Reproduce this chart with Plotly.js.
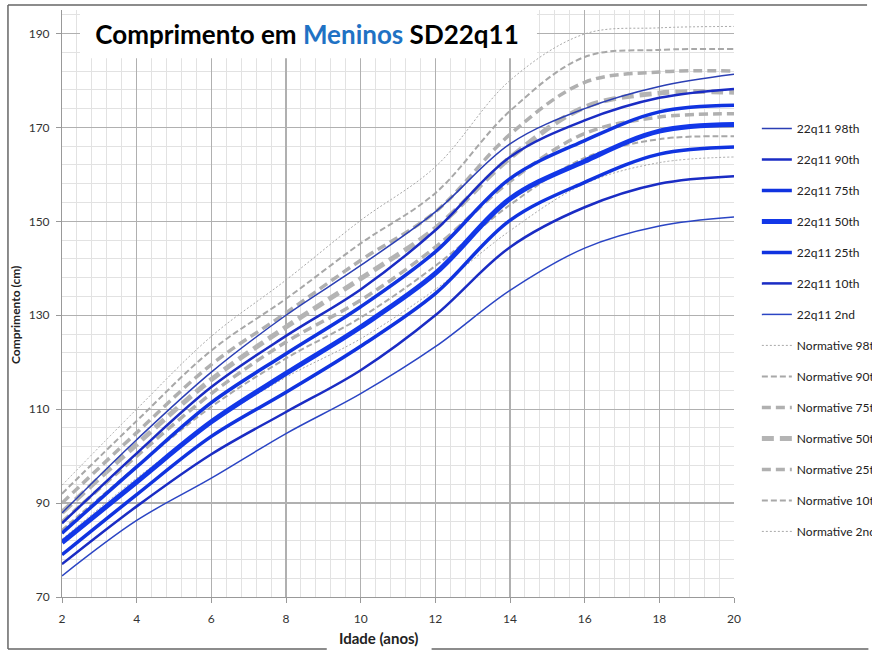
<!DOCTYPE html>
<html>
<head>
<meta charset="utf-8">
<script src="https://cdn.plot.ly/plotly-3.0.1.min.js"></script>
<style>html,body{margin:0;padding:0;background:#fff;}#chart{width:872px;height:651px;}</style>
</head>
<body>
<div id="chart"></div>
<script>
// Ages (years)
const ages = [2, 4, 6, 8, 10, 12, 14, 16, 18, 20];

// 22q11 percentiles (cm)
const q22_98 = [87.9, 103.5, 117.9, 130.0, 140.6, 152.0, 166.5, 174.0, 178.7, 181.3];
const q22_90 = [85.7, 100.6, 114.7, 125.6, 135.5, 148.1, 163.7, 171.5, 176.3, 178.2];
const q22_75 = [83.6, 97.7, 111.4, 121.8, 131.8, 143.5, 159.1, 167.2, 173.3, 174.7];
const q22_50 = [81.6, 94.5, 107.3, 117.6, 127.5, 138.9, 154.8, 162.8, 169.2, 170.6];
const q22_25 = [79.0, 91.8, 104.2, 113.6, 123.4, 134.6, 150.2, 158.3, 164.3, 165.8];
const q22_10 = [77.0, 89.3, 100.4, 109.4, 118.3, 130.0, 144.5, 153.0, 158.0, 159.6];
const q22_02 = [74.5, 86.3, 95.3, 104.8, 113.3, 123.3, 135.3, 144.3, 149.0, 150.9];

// Normative percentiles (cm)
const nor_98 = [93.8, 110.0, 125.5, 137.5, 150.2, 161.6, 180.0, 189.9, 191.2, 191.5];
const nor_90 = [92.0, 107.5, 122.5, 133.5, 145.3, 156.0, 173.5, 185.0, 186.5, 186.7];
const nor_75 = [90.0, 105.0, 119.5, 130.5, 141.7, 152.0, 168.5, 179.6, 181.8, 182.0];
const nor_50 = [88.0, 102.5, 116.3, 127.5, 137.8, 148.5, 163.5, 174.3, 177.3, 177.5];
const nor_25 = [86.0, 100.0, 113.3, 124.3, 133.2, 144.5, 158.5, 168.7, 172.2, 172.9];
const nor_10 = [84.3, 97.8, 110.5, 120.8, 129.5, 140.5, 153.5, 163.5, 167.5, 168.1];
const nor_02 = [82.3, 95.3, 107.0, 116.8, 125.0, 135.5, 148.0, 158.0, 162.5, 163.7];

const q22Names = ["22q11 98th","22q11 90th","22q11 75th","22q11 50th","22q11 25th","22q11 10th","22q11 2nd"];
const norNames = ["Normative 98th","Normative 90th","Normative 75th","Normative 50th","Normative 25th","Normative 10th","Normative 2nd"];
const xTicks = [2,4,6,8,10,12,14,16,18,20];
const yTicks = [70,90,110,130,150,170,190];

const q22Data = [q22_98,q22_90,q22_75,q22_50,q22_25,q22_10,q22_02];
const norData = [nor_98,nor_90,nor_75,nor_50,nor_25,nor_10,nor_02];

const q22Style = [
  {color:"#2b3fb4", width:1.5},
  {color:"#1a2cc4", width:2.5},
  {color:"#1033e0", width:3.5},
  {color:"#1237e8", width:5},
  {color:"#1033e0", width:3.5},
  {color:"#1a2cc4", width:2.5},
  {color:"#2b45c4", width:1.5}
];
const norStyle = [
  {color:"#a8a8a8", width:1, dash:"2px,2px"},
  {color:"#a8a8a8", width:2, dash:"6px,3px"},
  {color:"#b0b0b0", width:3.5, dash:"9px,5px"},
  {color:"#b4b4b4", width:5, dash:"12px,6px"},
  {color:"#b0b0b0", width:3.5, dash:"9px,5px"},
  {color:"#a8a8a8", width:2, dash:"6px,3px"},
  {color:"#a8a8a8", width:1, dash:"2px,2px"}
];

const traces = [];
norData.forEach((d,i)=>{
  traces.push({x:ages, y:d, type:"scatter", mode:"lines", name:norNames[i],
    legendgroup:"n"+i, legendrank:100+i,
    line:Object.assign({shape:"spline", smoothing:1}, norStyle[i]), hoverinfo:"skip"});
});
q22Data.forEach((d,i)=>{
  traces.push({x:ages, y:d, type:"scatter", mode:"lines", name:q22Names[i],
    legendgroup:"q"+i, legendrank:10+i,
    line:Object.assign({shape:"spline", smoothing:1}, q22Style[i]), hoverinfo:"skip"});
});

const font = "Lato, 'Open Sans', sans-serif";
const layout = {
  width:872, height:651,
  margin:{l:62, r:138, t:10, b:54, autoexpand:false},
  paper_bgcolor:"#ffffff", plot_bgcolor:"#ffffff",
  font:{family:font, color:"#333", size:12},
  showlegend:true,
  legend:{x:1.034, xanchor:"left", y:0.823, yanchor:"top", tracegroupgap:12,
    font:{family:font, size:12, color:"#222"}, bgcolor:"rgba(0,0,0,0)", itemwidth:30},
  title:{text:"Comprimento em <span style='color:#1f72c4'>Meninos</span> SD22q11",
    x:0.3646, xref:"paper", xanchor:"center", y:0.946, yref:"container", yanchor:"middle",
    font:{family:font, size:26, color:"#000", weight:"bold"}},
  xaxis:{range:[2,20], tickvals:xTicks, ticks:"outside", ticklen:5, tickcolor:"#999",
    showline:true, linecolor:"#999", linewidth:1, showgrid:true, gridcolor:"#b0b0b0", gridwidth:1.2,
    zeroline:false, ticklabelstandoff:6, tickfont:{size:12, color:"#333"},
    minor:{tick0:2, dtick:0.4, showgrid:true, gridcolor:"#e2e2e2", gridwidth:1}},
  yaxis:{range:[70,195], tickvals:yTicks, ticks:"outside", ticklen:5, tickcolor:"#999",
    showline:true, linecolor:"#999", linewidth:1, showgrid:true, gridcolor:"#b0b0b0", gridwidth:1.2,
    zeroline:false, ticklabelstandoff:4, tickfont:{size:12, color:"#333"},
    minor:{tick0:70, dtick:4, showgrid:true, gridcolor:"#e2e2e2", gridwidth:1}},
  shapes:[
    {type:"rect", xref:"paper", yref:"paper", x0:0.0268, x1:0.7068, y0:0.918, y1:1.0,
      fillcolor:"#ffffff", line:{width:0}, layer:"above"},
    {type:"line", xref:"paper", yref:"paper", x0:-0.0804, x1:-0.0804, y0:-0.0886, y1:1.0085, line:{color:"#666", width:1.5}},
    {type:"line", xref:"paper", yref:"paper", x0:-0.0804, x1:1.198, y0:1.0085, y1:1.0085, line:{color:"#666", width:1.5}},
    {type:"line", xref:"paper", yref:"paper", x0:-0.0804, x1:0.394, y0:-0.0886, y1:-0.0886, line:{color:"#666", width:1.5}},
    {type:"line", xref:"paper", yref:"paper", x0:0.55, x1:1.2, y0:-0.0886, y1:-0.0886, line:{color:"#666", width:1.5}}
  ],
  annotations:[
    {text:"<b>Idade (anos)</b>", xref:"paper", yref:"paper", x:(378-62)/672, y:(597-638)/587,
      xanchor:"center", yanchor:"middle", showarrow:false, font:{family:font, size:15, color:"#222"}},
    {text:"<b>Comprimento (cm)</b>", xref:"paper", yref:"paper", x:(15-62)/672, y:(597-315)/587,
      xanchor:"center", yanchor:"middle", showarrow:false, textangle:-90, font:{family:font, size:12, color:"#222"}}
  ]
};

Plotly.newPlot("chart", traces, layout, {displayModeBar:false, staticPlot:true});
</script>
</body>
</html>
